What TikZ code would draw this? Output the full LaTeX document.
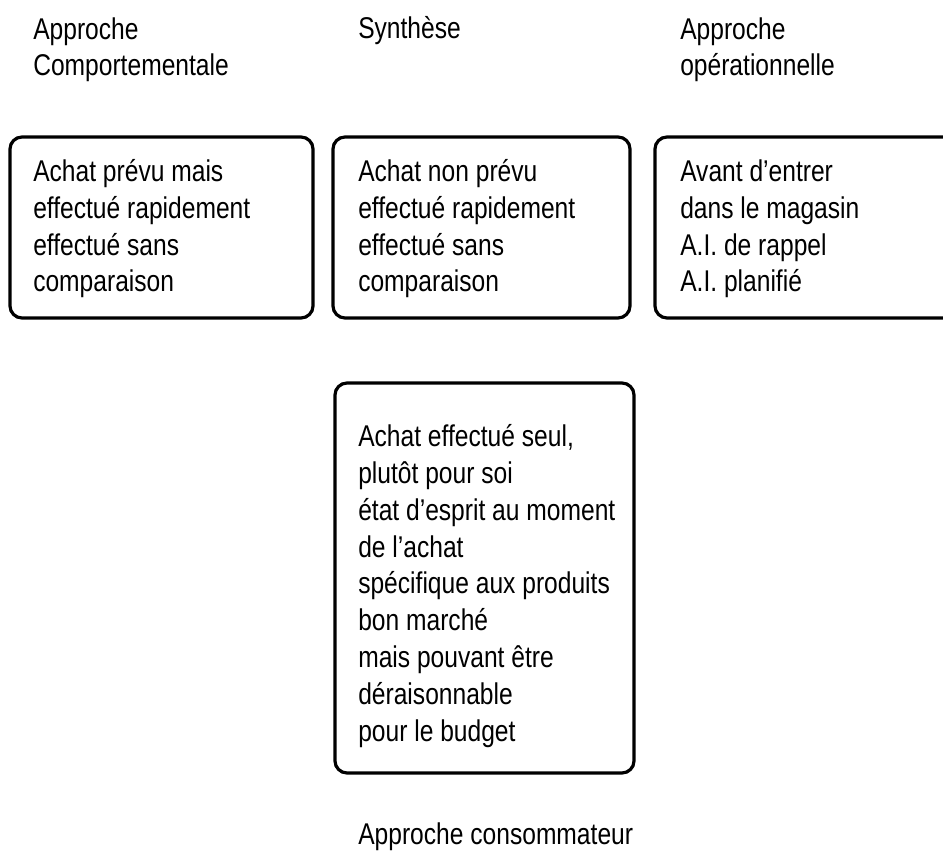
\documentclass[tikz,border=0pt]{standalone}
\usepackage{fontspec}
\setmainfont{Liberation Sans}[FakeStretch=0.82]
\begin{document}
\begin{tikzpicture}[x=0.75pt,y=-0.75pt,
  panel/.style={draw=black,line width=2.4pt,rounded corners=9pt},
  label/.style={anchor=base west,inner sep=0pt,align=left,
    font=\fontsize{22.5pt}{27.6pt}\selectfont}]
\useasboundingbox (0,0) rectangle (943,855);
\clip (0,0) rectangle (943,855);
% column headings (anchored at the baseline of their last line)
\node[label] (h1) at (33,76) {Approche\\Comportementale};
\node[label] (h2) at (358,39) {Synthèse};
\node[label] (h3) at (680,76) {Approche\\opérationnelle};
% three upper panels
\draw[panel] (10,137) rectangle (313,318);
\draw[panel] (333,137) rectangle (630,318);
\draw[panel] (655,137) rectangle (960,318);
\node[label] (t1) at (33,292) {Achat prévu mais\\effectué rapidement\\effectué sans\\comparaison};
\node[label] (t2) at (358,292) {Achat non prévu\\effectué rapidement\\effectué sans\\comparaison};
\node[label] (t3) at (680,292) {Avant d’entrer\\dans le magasin\\A.I. de rappel\\A.I. planifié};
% lower panel
\draw[panel] (335,383) rectangle (634,773);
\node[label] (t4) at (358,741) {Achat effectué seul,\\plutôt pour soi\\état d’esprit au moment\\de l’achat\\spécifique aux produits\\bon marché\\mais pouvant être\\déraisonnable\\pour le budget};
\node[label] (h4) at (358,844) {Approche consommateur};
\end{tikzpicture}
\end{document}
